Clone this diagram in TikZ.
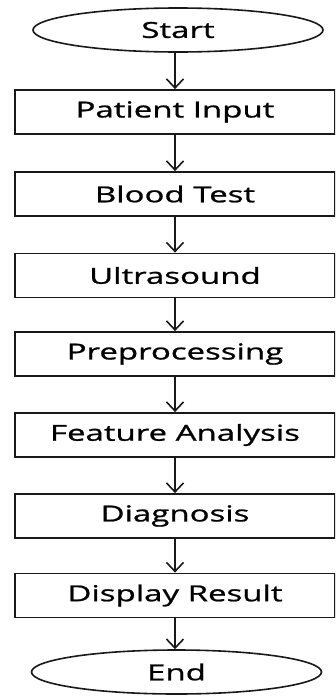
\documentclass[tikz,border=0pt]{standalone}
\usepackage{fontspec}
\setmainfont{Open Sans}[FakeStretch=1.5,FakeBold=1]
\usetikzlibrary{shapes.geometric,arrows.meta}
\begin{document}
\begin{tikzpicture}[x=1pt,y=-1pt,
  box/.style={draw=black!90, line width=1.8pt, minimum width=320pt, minimum height=44pt, inner sep=0pt, font=\fontsize{22}{26}\selectfont},
  term/.style={draw=black!90, ellipse, line width=1.6pt, minimum width=290pt, minimum height=44pt, inner sep=0pt, font=\fontsize{22}{26}\selectfont},
  arr/.style={-{Straight Barb[length=9pt,width=17pt,line width=1.6pt]}, line width=1.6pt, draw=black!90}]
\clip (0,0) rectangle (335,696);
\fill[white] (0,0) rectangle (335,696);
\node[term] (start) at (178,30) {Start};
\node[box] (pin) at (175,112) {Patient Input};
\node[box] (blood) at (175,194) {Blood Test};
\node[box] (ultra) at (175,275.5) {Ultrasound};
\node[box] (pre) at (175,354) {Preprocessing};
\node[box] (feat) at (175,435) {Feature Analysis};
\node[box] (diag) at (175,516) {Diagnosis};
\node[box] (disp) at (175,595.5) {Display Result};
\node[term] (end) at (176.5,672) {End};
\draw[arr] (start.south -| pin.north) -- (pin.north);
\draw[arr] (pin.south) -- (blood.north);
\draw[arr] (blood.south) -- (ultra.north);
\draw[arr] (ultra.south) -- (pre.north);
\draw[arr] (pre.south) -- (feat.north);
\draw[arr] (feat.south) -- (diag.north);
\draw[arr] (diag.south) -- (disp.north);
\draw[arr] (disp.south) -- (end.north -| disp.south);
\end{tikzpicture}
\end{document}
